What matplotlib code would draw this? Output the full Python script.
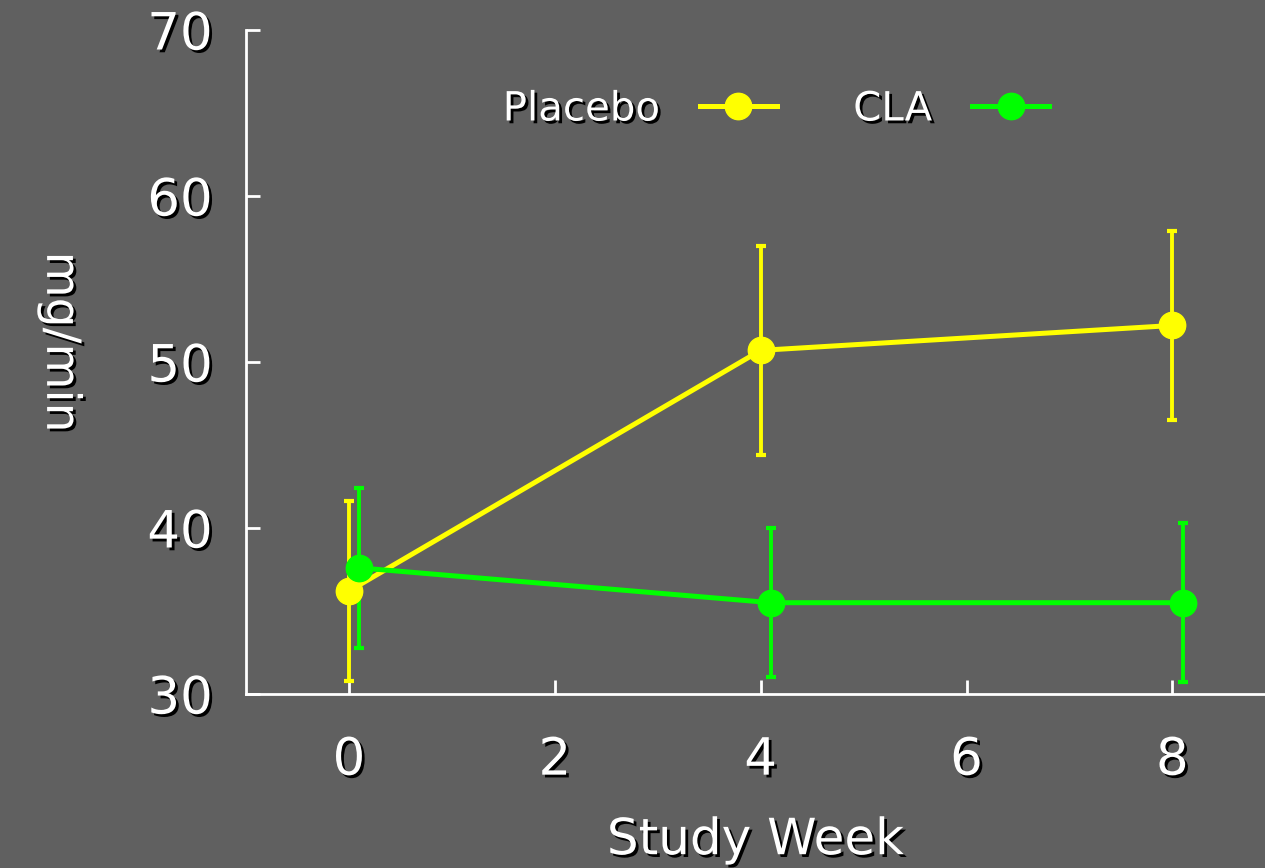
import matplotlib
matplotlib.use('Agg')
import matplotlib.pyplot as plt
import matplotlib.patheffects as pe
from matplotlib.lines import Line2D

# data
weeks = [0, 4, 8]
placebo = [36.2, 50.7, 52.2]
placebo_lo = [30.8, 44.4, 46.5]
placebo_hi = [41.6, 57.0, 57.9]
cla_weeks = [0.1, 4.1, 8.1]
cla = [37.6, 35.5, 35.5]
cla_lo = [32.8, 31.0, 30.7]
cla_hi = [42.4, 40.0, 40.3]

bg = '#606060'
yellow = '#ffff00'
green = '#00ff00'
shadow = [pe.SimplePatchShadow(offset=(2, -2), shadow_rgbFace='black', alpha=1), pe.Normal()]

plt.rcParams['font.family'] = ['DejaVu Sans']

fig = plt.figure(figsize=(12.65, 8.68), dpi=100, facecolor=bg)
ax = fig.add_axes([246/1265, 174/868, 1 - 246/1265, 664/868], facecolor=bg)

def draw(x, y, lo, hi, col):
    err = [[m - l for m, l in zip(y, lo)], [h - m for m, h in zip(y, hi)]]
    ax.errorbar(x, y, yerr=err, color=col, lw=3.6, marker='o', ms=19,
                elinewidth=2.8, capsize=3.5, capthick=3, zorder=3)

draw(weeks, placebo, placebo_lo, placebo_hi, yellow)
draw(cla_weeks, cla, cla_lo, cla_hi, green)

ax.set_xlim(-1, 8.9)
ax.set_ylim(30, 70)
ax.set_xticks([0, 2, 4, 6, 8])
ax.set_yticks([30, 40, 50, 60, 70])

for s in ['top', 'right']:
    ax.spines[s].set_visible(False)
for s in ['left', 'bottom']:
    ax.spines[s].set_color('white')
    ax.spines[s].set_linewidth(2)
ax.tick_params(direction='in', color='white', width=2, length=10, labelcolor='white', labelsize=37)
ax.tick_params(axis='x', pad=30)
ax.tick_params(axis='y', pad=24)
for t in ax.get_xticklabels() + ax.get_yticklabels():
    t.set_path_effects(shadow)

ax.set_xlabel('Study Week', color='white', fontsize=36, labelpad=22, path_effects=shadow)
ax.set_ylabel('mg/min', color='white', fontsize=34, rotation=270, path_effects=shadow)
ax.yaxis.set_label_coords(-0.205, 0.53)

handles = [Line2D([], [], color=yellow, lw=3.6, marker='o', ms=19),
           Line2D([], [], color=green, lw=3.6, marker='o', ms=19)]
leg = ax.legend(handles, ['Placebo', 'CLA'], loc='upper center', bbox_to_anchor=(0.52, 0.965),
                ncol=2, frameon=False, markerfirst=False, fontsize=29, handlelength=1.9,
                columnspacing=1.9, handletextpad=1.0, numpoints=1)
for t in leg.get_texts():
    t.set_color('white')
    t.set_path_effects(shadow)

fig.savefig('out.png', dpi=100, facecolor=bg)
